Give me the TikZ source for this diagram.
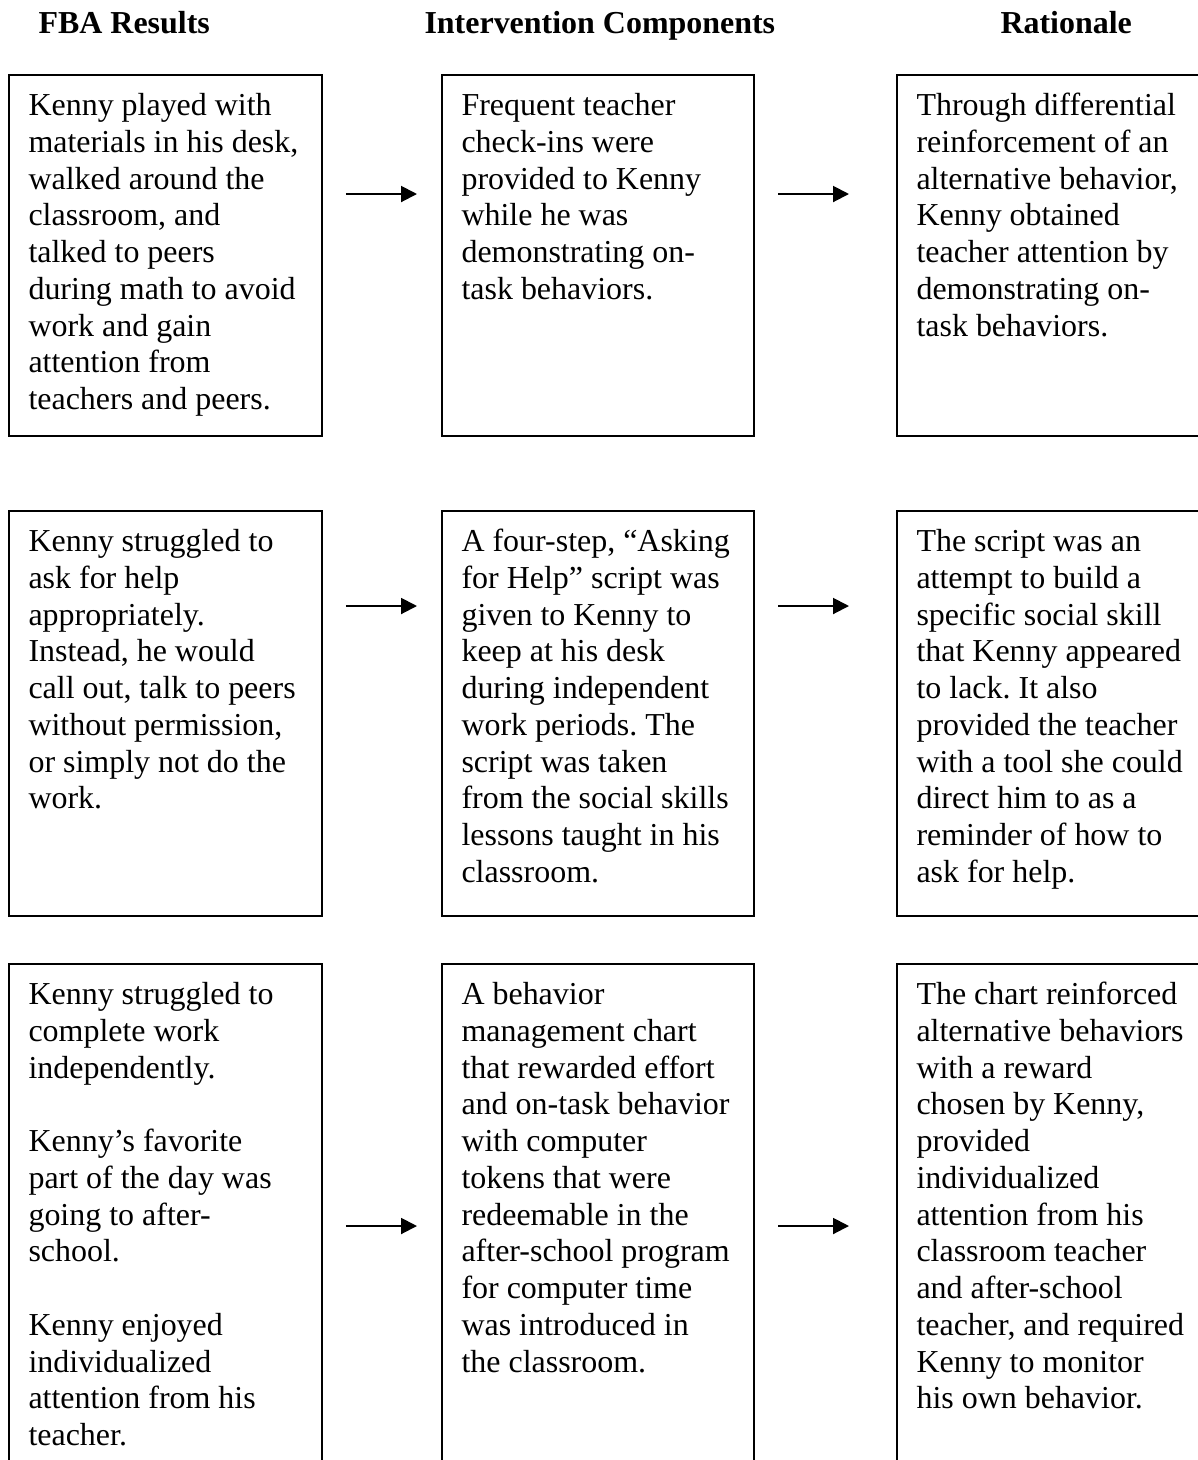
\documentclass[tikz,border=0pt]{standalone}
\usepackage{fontspec}
\setmainfont{Liberation Serif}
\usetikzlibrary{arrows.meta}
\newcommand{\pxu}{0.3755pt}
\frenchspacing

\begin{document}
\begin{tikzpicture}[
    x=\pxu, y=-\pxu,
    box/.style={
        draw,
        line width=0.75pt,
        anchor=north west,
        inner sep=0pt
    },
    txt/.style={
        anchor=north west,
        align=left,
        inner sep=0pt,
        font=\fontsize{12}{13.8}\selectfont
    },
    head/.style={
        anchor=base west,
        inner sep=0pt,
        font=\fontsize{12}{13.8}\selectfont\bfseries
    },
    arrow/.style={-{Triangle[length=6pt,width=6pt]}, line width=0.75pt}
]
    \useasboundingbox (0,0) rectangle (1198,1460);
    \clip (0,0) rectangle (1198,1460);

    % column titles
    \node[head] (hres) at (38,33) {FBA Results};
    \node[head] (hint) at (424,33) {Intervention Components};
    \node[head] (hrat) at (1000,33) {Rationale};

    % boxes
    \node[box, minimum width=313*\pxu, minimum height=361*\pxu] (res1) at (8,74) {};
    \node[box, minimum width=312*\pxu, minimum height=361*\pxu] (int1) at (441,74) {};
    \node[box, minimum width=340*\pxu, minimum height=361*\pxu] (rat1) at (896,74) {};

    \node[box, minimum width=313*\pxu, minimum height=405*\pxu] (res2) at (8,510) {};
    \node[box, minimum width=312*\pxu, minimum height=405*\pxu] (int2) at (441,510) {};
    \node[box, minimum width=340*\pxu, minimum height=405*\pxu] (rat2) at (896,510) {};

    \node[box, minimum width=313*\pxu, minimum height=560*\pxu] (res3) at (8,963) {};
    \node[box, minimum width=312*\pxu, minimum height=560*\pxu] (int3) at (441,963) {};
    \node[box, minimum width=340*\pxu, minimum height=560*\pxu] (rat3) at (896,963) {};

    % texts
    \node[txt] (res1t) at ([shift={(20,15.3)}]res1.north west) {\strut Kenny played with\\materials in his desk,\\walked around the\\classroom, and\\talked to peers\\during math to avoid\\work and gain\\attention from\\teachers and peers.};
    \node[txt] (int1t) at ([shift={(20,15.3)}]int1.north west) {\strut Frequent teacher\\check-ins were\\provided to Kenny\\while he was\\demonstrating on-\\task behaviors.};
    \node[txt] (rat1t) at ([shift={(20,15.3)}]rat1.north west) {\strut Through differential\\reinforcement of an\\alternative behavior,\\Kenny obtained\\teacher attention by\\demonstrating on-\\task behaviors.};

    \node[txt] (res2t) at ([shift={(20,15.3)}]res2.north west) {\strut Kenny struggled to\\ask for help\\appropriately.\\Instead, he would\\call out, talk to peers\\without permission,\\or simply not do the\\work.};
    \node[txt] (int2t) at ([shift={(20,15.3)}]int2.north west) {\strut A four-step, “Asking\\for Help” script was\\given to Kenny to\\keep at his desk\\during independent\\work periods. The\\script was taken\\from the social skills\\lessons taught in his\\classroom.};
    \node[txt] (rat2t) at ([shift={(20,15.3)}]rat2.north west) {\strut The script was an\\attempt to build a\\specific social skill\\that Kenny appeared\\to lack. It also\\provided the teacher\\with a tool she could\\direct him to as a\\reminder of how to\\ask for help.};

    \node[txt] (res3t) at ([shift={(20,15.3)}]res3.north west) {\strut Kenny struggled to\\complete work\\independently.\\\mbox{}\\Kenny’s favorite\\part of the day was\\going to after-\\school.\\\mbox{}\\Kenny enjoyed\\individualized\\attention from his\\teacher.};
    \node[txt] (int3t) at ([shift={(20,15.3)}]int3.north west) {\strut A behavior\\management chart\\that rewarded effort\\and on-task behavior\\with computer\\tokens that were\\redeemable in the\\after-school program\\for computer time\\was introduced in\\the classroom.};
    \node[txt] (rat3t) at ([shift={(20,15.3)}]rat3.north west) {\strut The chart reinforced\\alternative behaviors\\with a reward\\chosen by Kenny,\\provided\\individualized\\attention from his\\classroom teacher\\and after-school\\teacher, and required\\Kenny to monitor\\his own behavior.};

    % arrows
    \draw[arrow] ([shift={(23,120)}]res1.north east) -- ([shift={(-24,120)}]int1.north west);
    \draw[arrow] ([shift={(23,120)}]int1.north east) -- ([shift={(-47,120)}]rat1.north west);
    \draw[arrow] ([shift={(23,96)}]res2.north east) -- ([shift={(-24,96)}]int2.north west);
    \draw[arrow] ([shift={(23,96)}]int2.north east) -- ([shift={(-47,96)}]rat2.north west);
    \draw[arrow] ([shift={(23,263)}]res3.north east) -- ([shift={(-24,263)}]int3.north west);
    \draw[arrow] ([shift={(23,263)}]int3.north east) -- ([shift={(-47,263)}]rat3.north west);
\end{tikzpicture}
\end{document}
